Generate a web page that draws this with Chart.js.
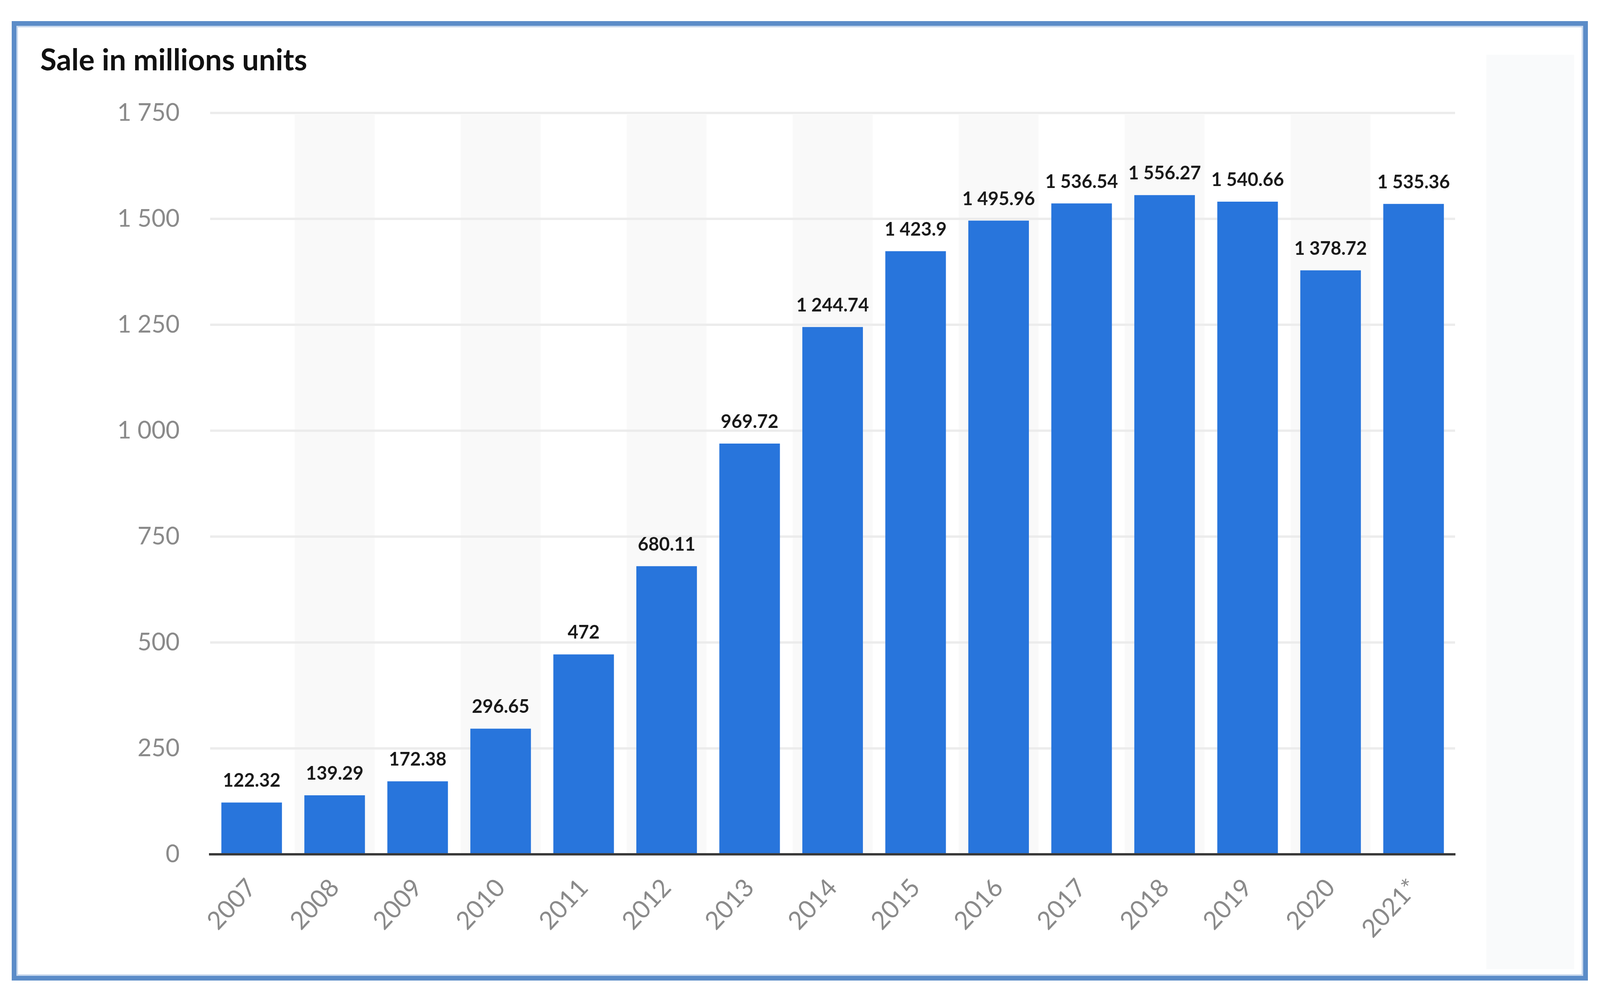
<!DOCTYPE html>
<html>
<head>
<meta charset="utf-8">
<script src="https://cdn.jsdelivr.net/npm/chart.js@4.4.1/dist/chart.umd.min.js"></script>
<style>
  html, body { margin: 0; padding: 0; background: #fff; }
  body { width: 4110px; height: 2546px; position: relative; overflow: hidden; }
  #frame {
    position: absolute; left: 30px; top: 54px; width: 4035px; height: 2455px;
    box-sizing: border-box; border: 12px solid #5b8cc8;
    box-shadow: inset 0 0 0 4px #c9d9ee;
  }
  #shade { position: absolute; left: 3805px; top: 140px; width: 225px; height: 2340px; background: #f9fafb; }
  #chart { position: absolute; left: 0; top: 0; }
</style>
</head>
<body>
<div id="frame"></div>
<div id="shade"></div>
<canvas id="chart" width="4110" height="2546"></canvas>
<script>
// values
const years = ["2007", "2008", "2009", "2010", "2011", "2012", "2013", "2014",
  "2015", "2016", "2017", "2018", "2019", "2020", "2021*"];
const sales = [122.32, 139.29, 172.38, 296.65, 472, 680.11, 969.72, 1244.74,
  1423.9, 1495.96, 1536.54, 1556.27, 1540.66, 1378.72, 1535.36];
const yTicks = [0, 250, 500, 750, 1000, 1250, 1500, 1750];

const FONT = "Lato, 'Open Sans', sans-serif";

// 1 423.9 style: space as thousands separator
function spaced(v) {
  const parts = String(v).split(".");
  parts[0] = parts[0].replace(/\B(?=(\d{3})+(?!\d))/g, " ");
  return parts.join(".");
}

// faint grey band behind every other year
const stripes = {
  id: "stripes",
  beforeDraw(chart) {
    const { ctx, chartArea, scales } = chart;
    const x = scales.x, y = scales.y;
    const w = (chartArea.right - chartArea.left) / years.length;
    const top = y.getPixelForValue(yTicks[yTicks.length - 1]) + 4;
    ctx.save();
    ctx.fillStyle = "#f9f9f9";
    for (let i = 1; i < years.length; i += 2) {
      const cx = x.getPixelForValue(i);
      ctx.fillRect(cx - w / 2 + 4, top, w - 8, chartArea.bottom - top);
    }
    ctx.restore();
  }
};

// value above each bar
const barLabels = {
  id: "barLabels",
  afterDatasetsDraw(chart) {
    const { ctx } = chart;
    const meta = chart.getDatasetMeta(0);
    ctx.save();
    ctx.font = "bold 47px " + FONT;
    ctx.fillStyle = "#1a1a1a";
    ctx.textAlign = "center";
    ctx.textBaseline = "alphabetic";
    meta.data.forEach((bar, i) => {
      ctx.fillText(spaced(sales[i]), bar.x, bar.y - 40);
    });
    ctx.restore();
  }
};

new Chart(document.getElementById("chart"), {
  type: "bar",
  data: {
    labels: years,
    datasets: [
      {
        data: sales,
        backgroundColor: "#2875dc",
        borderWidth: 0,
        barPercentage: 0.73,
        categoryPercentage: 1.0,
      },
    ],
  },
  options: {
    responsive: false,
    animation: false,
    devicePixelRatio: 1,
    layout: {
      padding: { left: 103, right: 385, top: 110, bottom: 100 },
    },
    plugins: {
      legend: { display: false },
      tooltip: { enabled: false },
      title: {
        display: true,
        text: "Sale in millions units",
        align: "start",
        color: "#111111",
        font: { family: FONT, size: 76, weight: "bold" },
        padding: { top: 0, bottom: 88 },
      },
    },
    scales: {
      x: {
        grid: { display: false },
        border: { display: true, color: "#3a3a3a", width: 6 },
        ticks: {
          color: "#8a8a8a",
          font: { family: FONT, size: 64 },
          minRotation: 47,
          maxRotation: 47,
          padding: 40,
        },
        afterFit(scale) {
          scale.height = 260;
        },
      },
      y: {
        min: 0,
        max: 1750,
        afterBuildTicks(scale) {
          scale.ticks = yTicks.map((v) => ({ value: v }));
        },
        grid: { color: "#ececec", lineWidth: 6, drawTicks: false },
        border: { display: false },
        ticks: {
          color: "#8a8a8a",
          font: { family: FONT, size: 62 },
          padding: 78,
          callback: (v) => spaced(v),
        },
        afterFit(scale) {
          scale.width = 435;
        },
      },
    },
  },
  plugins: [stripes, barLabels],
});
</script>
</body>
</html>
